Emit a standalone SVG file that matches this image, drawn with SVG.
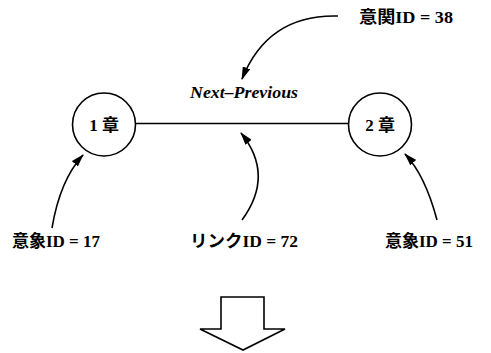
<svg xmlns="http://www.w3.org/2000/svg" width="491" height="353" viewBox="0 0 491 353">
  <style>
    .node circle { fill: #fff; stroke: #000; stroke-width: 1.6; }
    .lbl { font-family: "Liberation Serif", "Noto Sans CJK JP", serif; font-weight: bold; font-size: 17px; fill: #000; }
    .conn path { fill: none; stroke: #000; stroke-width: 1.6; }
    .conn line { stroke: #000; stroke-width: 1.6; }
    .it { font-family: "Liberation Serif", serif; font-style: italic; font-weight: bold; font-size: 17px; fill: #000; }
  </style>
  <defs>
    <marker id="head" viewBox="0 0 13 8" refX="12" refY="4" markerWidth="13" markerHeight="8" markerUnits="userSpaceOnUse" orient="auto">
      <path d="M0,0 L13,4 L0,8 Z" fill="#000"/>
    </marker>
  </defs>

  <!-- connectors -->
  <g id="connectors" class="conn">
    <line x1="136" y1="123.5" x2="349" y2="123.5"/>
    <path d="M338,16 Q268,14 242,79" marker-end="url(#head)"/>
    <path d="M52,228 Q60,180 83,155" marker-end="url(#head)"/>
    <path d="M242,220 Q275,175 241,133" marker-end="url(#head)"/>
    <path d="M437,220 Q425,175 405,154" marker-end="url(#head)"/>
  </g>

  <!-- nodes -->
  <g id="chapter1" class="node">
    <circle cx="104" cy="124.5" r="31.5"/>
    <text class="lbl" x="104" y="131" text-anchor="middle">1 章</text>
  </g>
  <g id="chapter2" class="node">
    <circle cx="380" cy="124.5" r="31.5"/>
    <text class="lbl" x="380" y="131" text-anchor="middle">2 章</text>
  </g>

  <!-- labels -->
  <g id="link-name">
    <text class="it" x="190" y="98" textLength="108" lengthAdjust="spacingAndGlyphs">Next–Previous</text>
  </g>
  <g id="relation-id">
    <text class="lbl" x="359" y="23" textLength="94" lengthAdjust="spacingAndGlyphs">意関ID = 38</text>
  </g>
  <g id="image-id-17">
    <text class="lbl" x="12" y="247" textLength="88" lengthAdjust="spacingAndGlyphs">意象ID = 17</text>
  </g>
  <g id="link-id">
    <text class="lbl" x="190" y="247" textLength="108" lengthAdjust="spacingAndGlyphs">リンクID = 72</text>
  </g>
  <g id="image-id-51">
    <text class="lbl" x="385" y="247" textLength="88" lengthAdjust="spacingAndGlyphs">意象ID = 51</text>
  </g>

  <!-- big downward arrow -->
  <g id="down-arrow">
    <polygon points="221,297 264,297 264,329 285,329 243,350 200,329 221,329" fill="#fff" stroke="#000" stroke-width="1.6" stroke-linejoin="miter"/>
  </g>
</svg>
